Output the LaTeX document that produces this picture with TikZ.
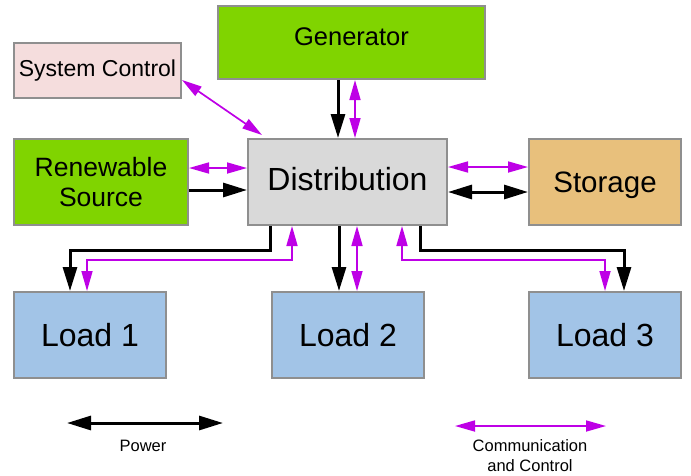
\documentclass[tikz,border=0pt]{standalone}
\usepackage{fontspec}
\setmainfont{Liberation Sans}
\usetikzlibrary{arrows.meta,calc}

\definecolor{gengreen}{RGB}{128,212,0}
\definecolor{ctrlpink}{RGB}{245,221,221}
\definecolor{distgray}{RGB}{217,217,217}
\definecolor{storeorange}{RGB}{232,192,124}
\definecolor{loadblue}{RGB}{162,196,231}
\definecolor{edgegray}{RGB}{143,143,143}
\definecolor{commpurple}{RGB}{190,0,230}

\tikzset{
  box/.style={draw=edgegray, line width=2pt, rectangle, align=center, inner sep=0pt},
  pw/.style={draw=black, line width=3pt,
    -{Triangle[length=24pt,width=14pt]}},
  pwboth/.style={draw=black, line width=3pt,
    {Triangle[length=24pt,width=14pt]}-{Triangle[length=24pt,width=14pt]}},
  cc/.style={draw=commpurple, line width=1.7pt,
    {Triangle[length=20pt,width=11pt]}-{Triangle[length=20pt,width=11pt]}},
  big/.style={font=\fontsize{32}{38}\selectfont},
  legend/.style={font=\fontsize{16.5}{20}\selectfont, align=center}
}

\begin{document}
\begin{tikzpicture}[x=1pt,y=-1pt]
\useasboundingbox (0,0) rectangle (691,475);

% blocks
\node[box, fill=ctrlpink, minimum width=167, minimum height=55,
  font=\fontsize{23}{27}\selectfont] (sc) at (97.5,70.5) {System Control};
\node[box, fill=gengreen, minimum width=267, minimum height=73,
  font=\fontsize{25.5}{30}\selectfont] (gen) at (351.5,42.5) {\raisebox{12pt}{Generator}};
\node[box, fill=gengreen, minimum width=174, minimum height=86,
  font=\fontsize{26.5}{30}\selectfont] (ren) at (101,182) {Renewable\\Source};
\node[box, fill=distgray, minimum width=199, minimum height=86, big] (dist) at (347.5,182) {\raisebox{6pt}{Distribution}};
\node[box, fill=storeorange, minimum width=152, minimum height=86,
  font=\fontsize{29.5}{34}\selectfont] (sto) at (605,182) {\raisebox{-3.5pt}[\height][\depth]{Storage}};
\node[box, fill=loadblue, minimum width=152, minimum height=86, big] (l1) at (90,335) {Load 1};
\node[box, fill=loadblue, minimum width=152, minimum height=86, big] (l2) at (348,335) {Load 2};
\node[box, fill=loadblue, minimum width=152, minimum height=86, big] (l3) at (605,335) {Load 3};

% attachment points on the block borders
\coordinate (gpw) at ($(gen.south)+(-13.5,0)$);
\coordinate (gcc) at ($(gen.south)+(3.5,0)$);
\coordinate (scA) at ($(sc.east)+(0,9.5)$);
\coordinate (scB) at ($(dist.north west)+(15,-3)$);
\coordinate (rcc) at ($(ren.east)+(0,-14)$);
\coordinate (rpw) at ($(ren.east)+(0,8)$);
\coordinate (dscc) at ($(dist.east)+(0,-15)$);
\coordinate (dspw) at ($(dist.east)+(0,10)$);
\coordinate (d1pw) at ($(dist.south)+(-77.5,0)$);
\coordinate (d1cc) at ($(dist.south)+(-55.5,0)$);
\coordinate (d2pw) at ($(dist.south)+(-8.5,0)$);
\coordinate (d2cc) at ($(dist.south)+(9.5,0)$);
\coordinate (d3cc) at ($(dist.south)+(54.5,0)$);
\coordinate (d3pw) at ($(dist.south)+(72.5,0)$);
\coordinate (l1pw) at ($(l1.north)+(-20,0)$);
\coordinate (l1cc) at ($(l1.north)+(-3,0)$);
\coordinate (l3cc) at ($(l3.north)+(0,0)$);
\coordinate (l3pw) at ($(l3.north)+(19,0)$);
% bends of the routed load lines
\coordinate (b1pw) at ($(l1pw)+(0,-41)$);
\coordinate (b1cc) at ($(l1cc)+(0,-31)$);
\coordinate (b3pw) at ($(l3pw)+(0,-41)$);
\coordinate (b3cc) at ($(l3cc)+(0,-31)$);

% generator
\draw[pw] (gpw) -- (gpw |- dist.north);
\draw[cc] (gcc) -- (gcc |- dist.north);
% system control
\draw[cc] (scA) -- (scB);
% renewable source
\draw[cc] (rcc) -- (rcc -| dist.west);
\draw[pw] (rpw) -- (rpw -| dist.west);
% storage
\draw[cc] (dscc) -- (dscc -| sto.west);
\draw[pwboth] (dspw) -- (dspw -| sto.west);
% loads
\draw[pw] (d1pw) |- (b1pw) -- (l1pw);
\draw[cc] (d1cc) |- (b1cc) -- (l1cc);
\draw[pw] (d2pw) -- (d2pw |- l2.north);
\draw[cc] (d2cc) -- (d2cc |- l2.north);
\draw[pw] (d3pw) |- (b3pw) -- (l3pw);
\draw[cc] (d3cc) |- (b3cc) -- (l3cc);

% legend
\coordinate (pwL) at (67,423);
\coordinate (pwR) at (223,423);
\coordinate (ccL) at (455,426);
\coordinate (ccR) at (606,426);
\draw[pwboth] (pwL) -- (pwR);
\draw[cc] (ccL) -- (ccR);
\node[legend, anchor=base] (pwlab) at (143,451) {Power};
\node[legend, anchor=base] (cclab) at (530,471) {Communication\\and Control};
\end{tikzpicture}
\end{document}
